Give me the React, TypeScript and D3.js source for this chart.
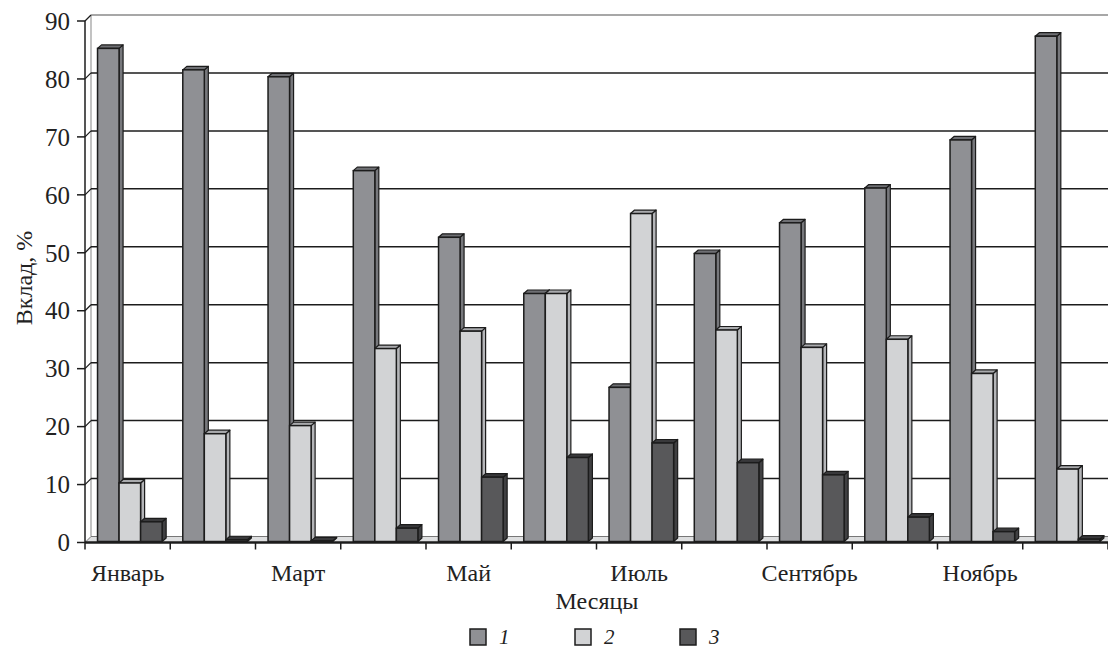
import React from "react";
import * as d3 from "d3";

// Monthly contribution of three components, %
const months = [
  "Январь", "Февраль", "Март", "Апрель", "Май", "Июнь",
  "Июль", "Август", "Сентябрь", "Октябрь", "Ноябрь", "Декабрь",
];
const series1 = [85.1, 81.4, 80.2, 64.0, 52.5, 42.8, 26.6, 49.7, 55.0, 61.0, 69.3, 87.2];
const series2 = [10.1, 18.6, 20.0, 33.3, 36.3, 42.8, 56.6, 36.5, 33.5, 34.9, 29.0, 12.5];
const series3 = [3.4, 0.3, 0.1, 2.3, 11.1, 14.5, 17.0, 13.6, 11.5, 4.2, 1.7, 0.4];
const seriesNames = ["1", "2", "3"];
const yTicks = [0, 10, 20, 30, 40, 50, 60, 70, 80, 90];

const W = 1108;
const H = 649;
const FONT =
  'Tinos, "Liberation Serif", "Noto Serif", "DejaVu Serif", FreeSerif, "Times New Roman", Times, serif';

const faceColors = ["#8f9094", "#d2d3d5", "#58585a"];
const sideColors = ["#77787c", "#b4b5b8", "#404042"];
const topColors = ["#6e6f73", "#a9aaad", "#39393b"];
const INK = "#1c1c1c";

// wall depth (back plane offset) and bar depth offsets
const WALL = 6;
const BAR_DX = 4;
const BAR_DY = 3.5;

const textStyle: React.CSSProperties = { fontFamily: FONT, fontSize: 24, fill: "#222" };

export default function App() {
  const data = [series1, series2, series3];
  const x0 = 85;
  const x1 = 1108;
  const yBase = 542.5;

  const x = d3.scaleBand<string>().domain(months).range([x0, x1]).paddingInner(0).paddingOuter(0);
  const step = x.step();
  const xs = d3
    .scaleBand<string>()
    .domain(seriesNames)
    .range([step * 0.147, step * 0.905])
    .padding(0);
  const y = d3.scaleLinear().domain([0, 90]).range([yBase, 21]);

  const barBase = yBase - 1;
  const bars: React.ReactNode[] = [];
  months.forEach((m, i) => {
    seriesNames.forEach((s, k) => {
      const v = data[k][i];
      const bx = (x(m) as number) + (xs(s) as number);
      const bw = xs.bandwidth();
      const top = y(v) - 1;
      const h = barBase - top;
      const top3 = `${bx},${top} ${bx + BAR_DX},${top - BAR_DY} ${bx + bw + BAR_DX},${top - BAR_DY} ${bx + bw},${top}`;
      const side = `${bx + bw},${top} ${bx + bw + BAR_DX},${top - BAR_DY} ${bx + bw + BAR_DX},${barBase - BAR_DY} ${bx + bw},${barBase}`;
      bars.push(
        <g key={`${m}-${s}`}>
          <polygon points={side} fill={sideColors[k]} stroke={INK} strokeWidth={1.2} strokeLinejoin="round" />
          <polygon points={top3} fill={topColors[k]} stroke={INK} strokeWidth={1.2} strokeLinejoin="round" />
          <rect x={bx} y={top} width={bw} height={h} fill={faceColors[k]} stroke={INK} strokeWidth={1.5} />
        </g>
      );
    });
  });

  const labelMonths = months.filter((_, i) => i % 2 === 0);
  const boundaries = d3.range(months.length + 1).map((i) => x0 + i * step);

  const legendX = [470, 575, 680];

  return (
    <div style={{ position: "fixed", left: 0, top: 0, width: W, height: H, background: "#fff" }}>
      <svg width={W} height={H} viewBox={`0 0 ${W} ${H}`} style={{ display: "block" }}>
        <rect width={W} height={H} fill="#fff" />

        {/* back wall outline */}
        <line x1={x0 + WALL} y1={y(90) - WALL} x2={W} y2={y(90) - WALL} stroke="#8a8a8a" strokeWidth={1.5} />
        <line x1={x0 + WALL} y1={y(90) - WALL} x2={x0 + WALL} y2={yBase - WALL} stroke="#9a9a9a" strokeWidth={1.2} />

        {/* gridlines on back wall and side wall */}
        {yTicks.filter((t) => t > 0 && t < 90).map((t) => (
          <g key={`g${t}`}>
            <line x1={x0 + WALL} y1={y(t) - WALL} x2={W} y2={y(t) - WALL} stroke={INK} strokeWidth={1.5} />
            <line x1={x0} y1={y(t)} x2={x0 + WALL} y2={y(t) - WALL} stroke={INK} strokeWidth={1.2} />
          </g>
        ))}
        <line x1={x0} y1={y(90)} x2={x0 + WALL} y2={y(90) - WALL} stroke={INK} strokeWidth={1.2} />

        {/* floor */}
        <polygon
          points={`${x0},${yBase} ${W},${yBase} ${W + WALL},${yBase - WALL} ${x0 + WALL},${yBase - WALL}`}
          fill="#dedfe0"
          stroke="#777"
          strokeWidth={1}
        />

        {bars}

        {/* axes */}
        <line x1={x0} y1={y(90)} x2={x0} y2={yBase} stroke={INK} strokeWidth={1.5} />
        <line x1={x0} y1={yBase} x2={W} y2={yBase} stroke={INK} strokeWidth={2.5} />
        {yTicks.map((t) => (
          <g key={`t${t}`}>
            <line x1={x0 - 8} y1={y(t)} x2={x0} y2={y(t)} stroke={INK} strokeWidth={1.5} />
            <text x={70} y={y(t)} dy="0.35em" textAnchor="end" style={{ ...textStyle, fontSize: 25 }}>
              {t}
            </text>
          </g>
        ))}
        {boundaries.map((bx, i) => (
          <line key={`c${i}`} x1={bx} y1={yBase} x2={bx} y2={yBase + 7} stroke={INK} strokeWidth={1.5} />
        ))}
        {labelMonths.map((m) => (
          <text key={m} x={(x(m) as number) + step / 2} y={581} textAnchor="middle" style={textStyle}>
            {m}
          </text>
        ))}

        {/* axis titles */}
        <text x={597} y={609} textAnchor="middle" style={textStyle}>
          Месяцы
        </text>
        <text transform="translate(32,278) rotate(-90)" textAnchor="middle" style={textStyle}>
          Вклад, %
        </text>

        {/* legend */}
        {seriesNames.map((s, k) => (
          <g key={`l${s}`}>
            <rect x={legendX[k]} y={629} width={16} height={16} fill={faceColors[k]} stroke={INK} strokeWidth={1.5} />
            <text x={legendX[k] + 29} y={644} style={{ ...textStyle, fontSize: 21, fontStyle: "italic" }}>
              {s}
            </text>
          </g>
        ))}
      </svg>
    </div>
  );
}
